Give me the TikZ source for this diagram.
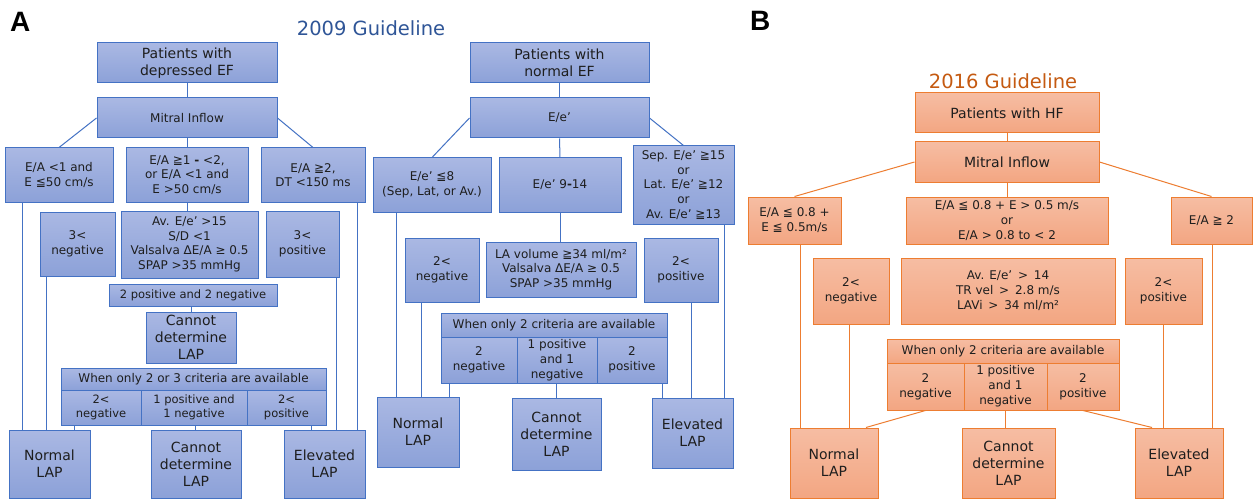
\documentclass[tikz,border=0pt]{standalone}
\usepackage{fontspec}
\setmainfont{DejaVu Sans}
\newfontfamily\lblfont{Liberation Sans}
\definecolor{aline}{HTML}{4472C4}
\definecolor{atop}{HTML}{AAB8E3}
\definecolor{abot}{HTML}{8CA1D8}
\definecolor{bline}{HTML}{ED7D31}
\definecolor{btop}{HTML}{F6BDA3}
\definecolor{bbot}{HTML}{F3A682}
\definecolor{atitle}{HTML}{2F5597}
\definecolor{btitle}{HTML}{C55A11}
\definecolor{txt}{HTML}{1E1E1E}
\tikzset{
  abox/.style={draw=aline, line width=1pt, top color=atop, bottom color=abot, align=center, inner sep=0pt, text=txt},
  bbox/.style={draw=bline, line width=1pt, top color=btop, bottom color=bbot, align=center, inner sep=0pt, text=txt},
  alink/.style={draw=aline, line width=1pt},
  blink/.style={draw=bline, line width=1pt},
  big/.style={font=\fontsize{14}{17}\selectfont},
  sma/.style={font=\fontsize{12}{14.7}\selectfont},
  smt/.style={font=\fontsize{11.5}{14.3}\selectfont},
  smb/.style={font=\fontsize{12}{15}\selectfont},
  panel/.style={font=\lblfont\bfseries\fontsize{28}{28}\selectfont, inner sep=0pt, anchor=base west},
  gtitle/.style={font=\fontsize{19.5}{20}\selectfont, inner sep=0pt, anchor=base}
}
% style, name, x1, y1, x2, y2, text
\newcommand{\mybox}[7]{\node[#1, minimum width={(#5-#3)*1pt}, minimum height={(#6-#4)*1pt}] (#2) at ({(#3+#5)/2},{(#4+#6)/2}) {#7};}
\begin{document}
\begin{tikzpicture}[x=1pt, y=-1pt]
\fill[white] (0,0) rectangle (1253,500);
\useasboundingbox (0,0) rectangle (1253,500);

% ---------- titles ----------
\node[panel] (lA) at (10,32) {A};
\node[panel] (lB) at (750,31) {B};
\node[gtitle, text=atitle] (t09) at (371,36) {2009 Guideline};
\node[gtitle, text=btitle] (t16) at (1003,89) {2016 Guideline};

% ---------- Panel A, depressed EF ----------
\mybox{abox,big}{pde}{97}{43}{277}{83}{Patients with\\depressed EF}
\mybox{abox,sma}{mia}{97}{98}{277}{138}{Mitral Inflow}
\mybox{abox,sma}{ea1}{5}{148}{113}{202}{E/A <1 and\\E ≦50 cm/s}
\mybox{abox,sma}{ea2}{126}{148}{248}{202}{E/A ≧1 {\bfseries -} <2,\\or E/A <1 and\\E >50 cm/s}
\mybox{abox,sma}{ea3}{261}{148}{365}{202}{E/A ≧2,\\DT <150 ms}
\mybox{abox,sma}{n3a}{40}{212}{115}{276}{3<\\negative}
\mybox{abox,sma}{ava}{121}{211}{258}{278}{Av. E/e’ >15\\S/D <1\\Valsalva ΔE/A ≥ 0.5\\SPAP >35 mmHg}
\mybox{abox,sma}{p3a}{266}{211}{339}{277}{3<\\positive}
\mybox{abox,smt}{tpn}{109}{284}{277}{306}{2 positive and 2 negative}
\mybox{abox,big}{cda1}{146}{312}{236}{363}{Cannot\\determine\\LAP}
\mybox{abox,sma}{tha}{61}{368}{326}{390}{When only 2 or 3 criteria are available}
\mybox{abox,smt}{t1a}{61}{390}{141}{425}{2<\\negative}
\mybox{abox,smt}{t2a}{141}{390}{247}{425}{1 positive and\\1 negative}
\mybox{abox,smt}{t3a}{247}{390}{326}{425}{2<\\positive}
\mybox{abox,big}{nla}{9}{430}{90}{498}{Normal\\LAP}
\mybox{abox,big}{cda2}{151}{430}{241}{498}{Cannot\\determine\\LAP}
\mybox{abox,big}{ela}{284}{430}{365}{498}{Elevated\\LAP}

\coordinate (xa1) at (22,0);
\coordinate (xa2) at (46,0);
\coordinate (xa3) at (74,0);
\coordinate (xa4) at (195,0);
\coordinate (xa5) at (311,0);
\coordinate (xa6) at (336,0);
\coordinate (xa7) at (357,0);

\draw[alink] (pde.south) -- (mia.north);
\draw[alink] (mia.west) -- (ea1.north);
\draw[alink] (mia.east) -- (ea3.north);
\draw[alink] (mia.south) -- (ea2.north);
\draw[alink] (ea2.south) -- (ea2.south |- ava.north);
\draw[alink] (tpn.south -| cda1.north) -- (cda1.north);
\draw[alink] (ea1.south -| xa1) -- (nla.north -| xa1);
\draw[alink] (n3a.south -| xa2) -- (nla.north -| xa2);
\draw[alink] (t1a.south -| xa3) -- (nla.north -| xa3);
\draw[alink] (t2a.south -| xa4) -- (cda2.north -| xa4);
\draw[alink] (t3a.south -| xa5) -- (ela.north -| xa5);
\draw[alink] (p3a.south -| xa6) -- (ela.north -| xa6);
\draw[alink] (ea3.south -| xa7) -- (ela.north -| xa7);

% ---------- Panel A, normal EF ----------
\mybox{abox,big}{pne}{470}{43}{649}{83}{Patients with\\normal EF}
\mybox{abox,sma}{eea}{470}{98}{649}{138}{E/e’}
\mybox{abox,sma}{ee1}{373}{158}{491}{212}{E/e’ ≦8\\(Sep, Lat, or Av.)}
\mybox{abox,sma}{ee2}{499}{158}{621}{212}{E/e’ 9{\bfseries -}14}
\mybox{abox,sma}{ee3}{633}{146}{734}{224}{Sep. E/e’ ≧15\\or\\Lat. E/e’ ≧12\\or\\Av. E/e’ ≧13}
\mybox{abox,sma}{n2a}{405}{238}{479}{302}{2<\\negative}
\mybox{abox,sma}{lav}{486}{242}{636}{297}{LA volume ≧34 ml/m²\\Valsalva ΔE/A ≥ 0.5\\SPAP >35 mmHg}
\mybox{abox,sma}{p2a}{644}{238}{718}{302}{2<\\positive}
\mybox{abox,sma}{thb}{441}{313}{667}{337}{When only 2 criteria are available}
\mybox{abox,sma}{u1}{441}{337}{517}{383}{2\\negative}
\mybox{abox,sma}{u2}{517}{337}{597}{383}{1 positive\\and 1\\negative}
\mybox{abox,sma}{u3}{597}{337}{667}{383}{2\\positive}
\mybox{abox,big}{nlb}{377}{397}{459}{467}{Normal\\LAP}
\mybox{abox,big}{cdb}{512}{398}{601}{470}{Cannot\\determine\\LAP}
\mybox{abox,big}{elb}{652}{398}{733}{468}{Elevated\\LAP}

\coordinate (xb1) at (396,0);
\coordinate (xb2) at (421,0);
\coordinate (xb3) at (449,0);
\coordinate (xb4) at (556,0);
\coordinate (xb5) at (662,0);
\coordinate (xb6) at (691,0);
\coordinate (xb7) at (724,0);

\draw[alink] (pne.south) -- (eea.north);
\draw[alink] (eea.west) -- (ee1.north);
\draw[alink] (eea.east) -- (ee3.north);
\draw[alink] (eea.south) -- (ee2.north);
\draw[alink] (ee2.south) -- (ee2.south |- lav.north);
\draw[alink] (ee1.south -| xb1) -- (nlb.north -| xb1);
\draw[alink] (n2a.south -| xb2) -- (nlb.north -| xb2);
\draw[alink] (u1.south -| xb3) -- (nlb.north -| xb3);
\draw[alink] (u2.south -| xb4) -- (cdb.north -| xb4);
\draw[alink] (u3.south -| xb5) -- (elb.north -| xb5);
\draw[alink] (p2a.south -| xb6) -- (elb.north -| xb6);
\draw[alink] (ee3.south -| xb7) -- (elb.north -| xb7);

% ---------- Panel B ----------
\mybox{bbox,big}{phf}{915}{93}{1099}{133}{Patients with HF}
\mybox{bbox,big}{mib}{915}{142}{1099}{182}{Mitral Inflow}
\mybox{bbox,smb}{b1}{748}{197}{841}{244}{E/A ≦ 0.8 +\\E ≦ 0.5m/s}
\mybox{bbox,smb}{b2}{906}{197}{1108}{244}{E/A ≦ 0.8 + E > 0.5 m/s\\or\\E/A > 0.8 to < 2}
\mybox{bbox,smb}{b3}{1171}{197}{1252}{244}{E/A ≧ 2}
\mybox{bbox,smb}{bn}{813}{258}{889}{324}{2<\\negative}
\mybox{bbox,smb}{bav}{901}{258}{1115}{324}{Av. E/e’ \,>\, 14\\TR vel \,>\, 2.8 m/s\\LAVi \,>\, 34 ml/m²}
\mybox{bbox,smb}{bp}{1125}{258}{1202}{324}{2<\\positive}
\mybox{bbox,smb}{bth}{887}{339}{1119}{363}{When only 2 criteria are available}
\mybox{bbox,smb}{v1}{887}{363}{964}{410}{2\\negative}
\mybox{bbox,smb}{v2}{964}{363}{1047}{410}{1 positive\\and 1\\negative}
\mybox{bbox,smb}{v3}{1047}{363}{1119}{410}{2\\positive}
\mybox{bbox,big}{bnl}{790}{428}{878}{498}{Normal\\LAP}
\mybox{bbox,big}{bcd}{962}{428}{1055}{498}{Cannot\\determine\\LAP}
\mybox{bbox,big}{bel}{1135}{428}{1223}{498}{Elevated\\LAP}

\coordinate (xc1) at (800,0);
\coordinate (xc2) at (849,0);
\coordinate (xc3) at (1163,0);
\coordinate (xc4) at (1212,0);
\coordinate (xd1) at (866,0);
\coordinate (xd2) at (1152,0);

\draw[blink] (phf.south) -- (mib.north);
\draw[blink] (mib.west) -- (b1.north);
\draw[blink] (mib.east) -- (b3.north);
\draw[blink] (mib.south) -- (b2.north);
\draw[blink] (b1.south -| xc1) -- (bnl.north -| xc1);
\draw[blink] (bn.south -| xc2) -- (bnl.north -| xc2);
\draw[blink] (v1.south) -- (bnl.north -| xd1);
\draw[blink] (v2.south) -- (v2.south |- bcd.north);
\draw[blink] (v3.south) -- (bel.north -| xd2);
\draw[blink] (bp.south -| xc3) -- (bel.north -| xc3);
\draw[blink] (b3.south -| xc4) -- (bel.north -| xc4);
\end{tikzpicture}
\end{document}
